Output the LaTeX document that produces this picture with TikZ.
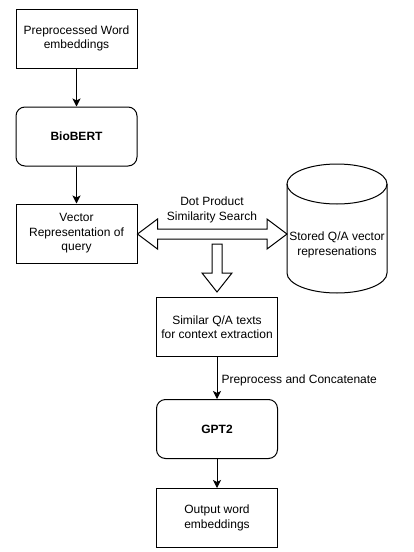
\documentclass[tikz,border=0pt]{standalone}
\usepackage{fontspec}
\setmainfont{Liberation Sans}
\usetikzlibrary{arrows.meta,calc}
\begin{document}
\begin{tikzpicture}[x=1pt,y=-1pt,
  every node/.style={font=\fontsize{12}{14.4}\selectfont, align=center, inner sep=0pt},
  boxnode/.style={draw, line width=1pt, minimum width=121pt, minimum height=59pt},
  roundbox/.style={boxnode, rounded corners=9pt},
  conn/.style={draw, line width=1pt, -{Stealth[length=8pt,width=8pt,inset=2pt]}},
  blockarrow/.style={draw, line width=1pt, fill=white, line join=miter}
]
\useasboundingbox (0,0) rectangle (414,552);
\node[boxnode] (b1) at (76.5,38.5) {Preprocessed Word\\embeddings};
\node[roundbox] (bio) at (76.5,136.5) {\bfseries BioBERT};
\node[boxnode] (vec) at (76.5,233.5) {Vector\\Representation of\\query};
\node[boxnode] (sim) at (217,327) {Similar Q/A texts\\for context extraction};
\node[roundbox] (gpt) at (217,429) {\bfseries GPT2};
\node[boxnode] (out) at (217,518) {Output word\\embeddings};
% cylinder
\draw[line width=1pt] (287,184) -- (287,273) arc[start angle=180,end angle=360,x radius=50pt,y radius=20pt] -- (387,184);
\draw[line width=1pt] (337,184) ellipse[x radius=50pt,y radius=20pt];
\node (db) at (337,245) {Stored Q/A vector\\represenations};
\coordinate (dbw) at (287,234);
% connectors
\draw[conn] (b1.south) -- (bio.north);
\draw[conn] (bio.south) -- (vec.north);
\draw[conn] (sim.south) -- node[right=4pt, pos=0.55] (pc) {Preprocess and Concatenate} (gpt.north);
\draw[conn] (gpt.south) -- (out.north);
% double block arrow
\draw[blockarrow] (vec.east |- dbw) -- ++(20,-15) -- ++(0,10) -- ($(dbw)+(-20,-5)$) -- ++(0,-10) -- (dbw)
  -- ++(-20,15) -- ++(0,-10) -- ($(vec.east |- dbw)+(20,5)$) -- ++(0,10) -- cycle;
\node (dps) at (212,210) {Dot Product\\Similarity Search};
% down block arrow
\draw[blockarrow] ($(sim.north)+(-5,-53)$) -- ++(10,0) -- ++(0,29) -- ++(10,0) -- ($(sim.north)+(0,-5)$)
  -- ++(-15,-19) -- ++(10,0) -- cycle;
\end{tikzpicture}
\end{document}
